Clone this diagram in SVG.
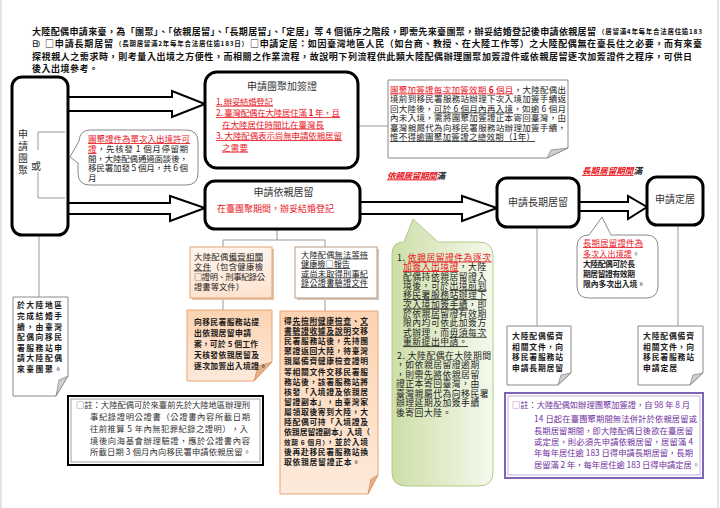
<svg xmlns="http://www.w3.org/2000/svg" width="720" height="508" viewBox="0 0 720 508">
<defs>
<style>
text{font-family:"Noto Sans CJK TC","Noto Sans CJK SC",sans-serif;fill:#222}
.h{font-size:9px;font-weight:700;fill:#111}
.hs{font-size:6.5px;font-weight:700;fill:#111}
.t{font-size:10px;fill:#333;text-anchor:middle}
.r{fill:#e8141e}
.u{text-decoration:underline}
.n{font-size:8.5px}
.bm{font-size:7.8px;font-weight:700;fill:#1a1a1a}
.g{font-size:8.8px;letter-spacing:0.5px;fill:#222}
.gy{font-size:8.3px;fill:#333}
.pu{font-size:8.3px;fill:#7030a0}
.it{font-size:8.6px;font-style:italic;font-weight:700}
.bx{fill:#fff;stroke:#000;stroke-width:3}
.ar{fill:#fff;stroke:#000;stroke-width:2;stroke-linejoin:miter}
.ln{stroke:#999;stroke-width:1;fill:none}
.nt{fill:#fff;stroke:#8a8a8a;stroke-width:1}
.fold{fill:#cfcfcf;stroke:#8a8a8a;stroke-width:0.8}
</style>
<linearGradient id="peach" x1="0" y1="0" x2="0" y2="1">
<stop offset="0" stop-color="#fcd3b2"/>
<stop offset="1" stop-color="#fdeadb"/>
</linearGradient>
<linearGradient id="peach2" x1="0" y1="0" x2="0" y2="1">
<stop offset="0" stop-color="#fff4ec"/>
<stop offset="1" stop-color="#fde3cf"/>
</linearGradient>
<linearGradient id="green" x1="0" y1="0" x2="1" y2="0">
<stop offset="0" stop-color="#cddea8"/>
<stop offset="1" stop-color="#f5f9ec"/>
</linearGradient>
</defs>
<rect width="720" height="508" fill="#fff"/>
<line x1="1" y1="0" x2="1" y2="508" stroke="#c8c8c8"/>
<line x1="718" y1="0" x2="718" y2="508" stroke="#c8c8c8"/>

<g id="header">
<text class="h" x="32" y="34.5" textLength="564">大陸配偶申請來臺，為「團聚」、「依親居留」、「長期居留」、「定居」等 4 個循序之階段，即需先來臺團聚，辦妥結婚登記後申請依親居留</text>
<text class="hs" x="598" y="34" textLength="104">（居留滿4年每年合法居住逾183</text>
<text class="hs" x="32" y="46" textLength="12">日）</text>
<text class="h" x="45" y="46.5" textLength="68">□申請長期居留</text>
<text class="hs" x="115" y="46" textLength="133">（長期居留滿2年每年合法居住逾183日）</text>
<text class="h" x="250" y="46.5" textLength="452">□申請定居：如因臺灣地區人民（如台商、教授、在大陸工作等）之大陸配偶無在臺長住之必要，而有來臺</text>
<text class="h" x="32" y="59.5" textLength="660">探視親人之需求時，則考量入出境之方便性，而相關之作業流程，故說明下列流程供此類大陸配偶辦理團聚加簽證件或依親居留逐次加簽證件之程序，可供日</text>
<text class="h" x="32" y="72" textLength="66">後入出境參考。</text>
</g>

<g id="connectors">
<polygon class="ar" points="68,97 172,97 172,91 205,104 172,117 172,111 68,111"/>
<polygon class="ar" points="68,203 170,203 170,196 205,208 170,221 170,214 68,214"/>
<polygon class="ar" points="360,202 462,202 462,196 497,208 462,221 462,214 360,214"/>
<polygon class="ar" points="579,202 628,202 628,196 647,207 628,219 628,211 579,211"/>
<line class="ln" x1="358" y1="126" x2="388" y2="126"/>
<line class="ln" x1="39" y1="235" x2="39" y2="297"/>
<polyline class="ln" points="277,229 277,240"/>
<polyline class="ln" points="223,247 223,240 325,240 325,247"/>
<line class="ln" x1="223" y1="298" x2="223" y2="310"/>
<line class="ln" x1="325" y1="298" x2="325" y2="311"/>
<line class="ln" x1="537" y1="227" x2="537" y2="326"/>
<line class="ln" x1="678" y1="225" x2="678" y2="326"/>
</g>

<g id="n-tuanju">
<rect class="bx" x="12" y="77" width="56" height="158" rx="10" stroke-width="3.5"/>
<text class="t" font-size="10.5" x="23" y="138">申</text>
<text class="t" font-size="10.5" x="23" y="150">請</text>
<text class="t" font-size="10.5" x="23" y="162">團</text>
<text class="t" font-size="10.5" x="23" y="174">聚</text>
<text class="t" x="36" y="170">或</text>
<polyline class="ln" points="65,132 38,132 38,150"/>
<polyline class="ln" points="38,172 38,198 65,198"/>
</g>

<g id="n-note-single">
<path class="nt" d="M90,130 H186 Q198,130 198,142 V173 Q198,185 186,185 H90 Q78,185 78,173 V163 L70,157 L79,141 Q80,130 90,130 Z"/>
<text class="n r u" x="88" y="142" textLength="102">團聚證件為單次入出境許可</text>
<text class="n" x="88" y="152" textLength="100"><tspan class="r u">證</tspan>，先核發 1 個月停留期</text>
<text class="n" x="88" y="161.5" textLength="100">間，大陸配偶通過面談後，</text>
<text class="n" x="88" y="171" textLength="100">移民署加發 5 個月，共 6 個</text>
<text class="n" x="88" y="181">月</text>
</g>

<g id="n-visa">
<rect class="bx" x="205" y="72" width="153" height="96" rx="12"/>
<text class="t" x="282" y="90">申請團聚加簽證</text>
<text class="n r u" x="216" y="104.7" textLength="57">1. 辦妥結婚登記</text>
<text class="n r u" x="216" y="116.2" textLength="124">2. 臺灣配偶在大陸居住滿 <tspan font-weight="700">1</tspan> 年，且</text>
<text class="n r u" x="222" y="127.7" textLength="102">在大陸居住時間比在臺灣長</text>
<text class="n r u" x="216" y="139.2" textLength="126">3. 大陸配偶表示尚無申請依親居留</text>
<text class="n r u" x="222" y="150.7" textLength="26">之需要</text>
</g>

<g id="n-visa-note">
<path class="nt" d="M388,80 H568 V148 L547,158 H388 Z"/>
<path class="fold" d="M547,158 L551,150 L568,148 Z"/>
<text class="n" x="390" y="92.5" textLength="176"><tspan class="r u">團聚加簽證每次加簽效期 <tspan font-weight="700">6</tspan> 個月</tspan>，大陸配偶出</text>
<text class="n" x="390" y="102" textLength="176">境前到移民署服務站辦理下次入境加簽手續返</text>
<text class="n" x="390" y="111.5" textLength="176">回大陸後，<tspan class="u">可於 6 個月內再入境</tspan>，如逾 6 個月</text>
<text class="n" x="390" y="121" textLength="176">內未入境，需將團聚加簽證正本寄回臺灣，由</text>
<text class="n" x="390" y="130.5" textLength="176">臺灣親屬代為向移民署服務站辦理加簽手續，</text>
<text class="n u" x="390" y="140" textLength="145">惟不得逾團聚加簽證之總效期（1年）</text>
</g>

<g id="n-residence">
<rect class="bx" x="205" y="181" width="155" height="48" rx="10"/>
<text class="t" x="283.5" y="195.5">申請依親居留</text>
<text class="r" font-size="9" x="217" y="211.5" textLength="117">在臺團聚期間，辦妥結婚登記</text>
</g>

<g id="lbl-residence">
<text class="it" x="387" y="178.5" textLength="58"><tspan class="r u">依親居留期間</tspan>滿</text>
</g>

<g id="lbl-long">
<text class="it" x="582" y="174" textLength="60"><tspan class="r u">長期居留期間</tspan>滿</text>
</g>

<g id="n-long">
<rect class="bx" x="497" y="178" width="82" height="49" rx="10"/>
<text class="t" x="538" y="205.5">申請長期居留</text>
</g>

<g id="n-settle">
<rect class="bx" x="647" y="177" width="56" height="48" rx="10"/>
<text class="t" font-size="9.5" x="675" y="202.5">申請定居</text>
</g>

<g id="n-long-note">
<path class="nt" d="M589,235 L602,217 L611,235 H646 Q658,235 658,247 V286 Q658,298 646,298 H589 Q577,298 577,286 V247 Q577,235 589,235 Z"/>
<text class="r u" font-size="8.4" x="583" y="246" textLength="60">長期居留證件為</text>
<text font-size="8" x="583" y="256.5" textLength="57"><tspan class="r u">多次入出境證</tspan>。</text>
<text font-size="7.8" font-weight="700" fill="#333" x="583" y="267" textLength="52">大陸配偶可於長</text>
<text font-size="7.8" font-weight="700" fill="#333" x="583" y="277" textLength="52">期居留證有效期</text>
<text font-size="7.8" font-weight="700" fill="#333" x="583" y="286.5" textLength="62">限內多次出入境。</text>
</g>

<g id="n-marriage">
<path class="nt" d="M13,297 H68 V376 L56,396 H13 Z"/>
<path class="fold" d="M56,396 L59,380 L68,376 Z"/>
<text class="bm" x="17" y="308" textLength="45">於大陸地區</text>
<text class="bm" x="17" y="319" textLength="45">完成結婚手</text>
<text class="bm" x="17" y="329.5" textLength="45">續，由臺灣</text>
<text class="bm" x="17" y="340" textLength="45">配偶向移民</text>
<text class="bm" x="17" y="351" textLength="45">署服務站申</text>
<text class="bm" x="17" y="361" textLength="45">請大陸配偶</text>
<text class="bm" x="17" y="371.5" textLength="45">來臺團聚。</text>
</g>

<g id="n-docs">
<rect x="192" y="249" width="82" height="51" fill="#e2c4aa"/>
<rect x="190" y="247" width="82" height="51" fill="url(#peach2)" stroke="#e0a57a" stroke-width="1"/>
<text font-size="8.3" x="194" y="259.5" textLength="69">大陸配偶<tspan class="u">備齊相關</tspan></text>
<text font-size="8.3" x="194" y="269.5" textLength="69"><tspan class="u">文件</tspan>（包含健康檢</text>
<text font-size="8.3" x="194" y="279.5" textLength="71">□證明、刑事紀錄公</text>
<text font-size="8.3" x="194" y="289.5" textLength="50">證書等文件）</text>
</g>

<g id="n-nodocs">
<rect x="297" y="249" width="82" height="51" fill="#d8c8ba"/>
<rect x="295" y="247" width="82" height="51" fill="#fff" stroke="#b89a80" stroke-width="1"/>
<text font-size="8.2" x="301" y="257.5" textLength="67">大陸配偶<tspan class="u">無法等待</tspan></text>
<text class="u" font-size="8.2" x="301" y="267" textLength="49">健康檢□報告</text>
<text class="u" font-size="8.2" x="301" y="276.5" textLength="67">或尚未取得刑事紀</text>
<text class="u" font-size="8.2" x="301" y="286" textLength="67">錄公證書驗證文件</text>
</g>

<g id="n-apply">
<path d="M187,310 H272 V362 L254,381 H187 Z" fill="url(#peach)" stroke="#e9a575" stroke-width="1"/>
<path d="M254,381 L258,366 L272,362 Z" fill="#e6b08a" stroke="#d9955f" stroke-width="0.8"/>
<text class="bm" x="194" y="325" textLength="65">向移民署服務站提</text>
<text class="bm" x="194" y="336" textLength="57">出依親居留申請</text>
<text class="bm" x="194" y="347" textLength="64">案，可於 5 個工作</text>
<text class="bm" x="194" y="358" textLength="65">天核發依親居留及</text>
<text class="bm" x="194" y="369" textLength="73">逐次加簽出入境證。</text>
</g>

<g id="n-apply2">
<path d="M280,311 H378 V475 L368,494 H280 Z" fill="url(#peach)" stroke="#e9a575" stroke-width="1"/>
<path d="M368,494 L371,479 L378,475 Z" fill="#e6b08a" stroke="#d9955f" stroke-width="0.8"/>
<text class="bm" x="284" y="324" textLength="84">得<tspan class="u">先檢附健康檢查</tspan>、<tspan class="u">文</tspan></text>
<text class="bm" x="284" y="334.1" textLength="84"><tspan class="u">書驗證收據及說明</tspan>交移</text>
<text class="bm" x="284" y="344.2" textLength="84">民署服務站後，先持團</text>
<text class="bm" x="284" y="354.3" textLength="84">聚證返回大陸，待臺灣</text>
<text class="bm" x="284" y="364.4" textLength="84">親屬備齊健康檢查證明</text>
<text class="bm" x="284" y="374.5" textLength="84">等相關文件交移民署服</text>
<text class="bm" x="284" y="384.6" textLength="84">務站後，該署服務站將</text>
<text class="bm" x="284" y="394.7" textLength="84">核發「入境證及依親居</text>
<text class="bm" x="284" y="404.8" textLength="84">留證副本」，由臺灣家</text>
<text class="bm" x="284" y="414.9" textLength="84">屬領取後寄到大陸，大</text>
<text class="bm" x="284" y="425" textLength="84">陸配偶可持「入境證及</text>
<text class="bm" x="284" y="435.1" textLength="86">依親居留證副本」入境（</text>
<text class="bm" x="284" y="445.2" textLength="84"><tspan font-size="6.6">效期 6 個月）</tspan>，並於入境</text>
<text class="bm" x="284" y="455.3" textLength="84">後再赴移民署服務站換</text>
<text class="bm" x="284" y="465.4" textLength="76">取依親居留證正本。</text>
</g>

<g id="n-green">
<path d="M392,254 Q392,242 404,242 L413,219 L438,242 H479 Q493,242 493,256 V472 Q493,486 479,486 H406 Q392,486 392,472 Z" fill="url(#green)" stroke="#b3ca88" stroke-width="1"/>
<text class="g" x="397" y="260.5">1. <tspan class="r u">依親居留證件為逐次</tspan></text>
<text class="g" x="403" y="270"><tspan class="r u">加簽入出境證</tspan>，大陸</text>
<text class="g" x="403" y="279.5">配偶持依親居留證入</text>
<text class="g" x="403" y="288.8">境後，可於<tspan class="u">出境前到</tspan></text>
<text class="g u" x="403" y="298.2">移民署服務站辦理下</text>
<text class="g" x="403" y="307.6"><tspan class="u">次入境加簽手續</tspan>，即</text>
<text class="g" x="403" y="317">於依親居留證有效期</text>
<text class="g" x="403" y="326.4">限內均可依此加簽方</text>
<text class="g" x="403" y="335.8">式辦理，而<tspan class="u">毋須每次</tspan></text>
<text class="g u" x="403" y="345.2">重新提出申請。</text>
<text class="g" x="397" y="358.5">2. 大陸配偶在大陸期間</text>
<text class="g" x="396" y="368">，如依親居留證逾期</text>
<text class="g" x="396" y="377.5">，則需先將依親居留</text>
<text class="g" x="396" y="387">證正本寄回臺灣，由</text>
<text class="g" x="396" y="396.5">臺灣親屬代為向移民署</text>
<text class="g" x="396" y="406">辦理延期及加簽手續</text>
<text class="g" x="396" y="415.5">後寄回大陸。</text>
</g>

<g id="n-long-doc">
<path class="nt" d="M507,326 H571 V373 L558,385 H507 Z"/>
<path class="fold" d="M558,385 L561,375 L571,373 Z"/>
<text class="bm" x="512" y="338.5" textLength="51">大陸配偶備齊</text>
<text class="bm" x="512" y="349.5" textLength="51">相關文件，向</text>
<text class="bm" x="512" y="360" textLength="51">移民署服務站</text>
<text class="bm" x="512" y="371" textLength="51">申請長期居留</text>
</g>

<g id="n-settle-doc">
<path class="nt" d="M638,326 H703 V373 L690,385 H638 Z"/>
<path class="fold" d="M690,385 L693,375 L703,373 Z"/>
<text class="bm" x="643" y="338.5" textLength="51">大陸配偶備齊</text>
<text class="bm" x="643" y="349.5" textLength="51">相關文件，向</text>
<text class="bm" x="643" y="360" textLength="51">移民署服務站</text>
<text class="bm" x="643" y="371" textLength="34">申請定居</text>
</g>

<g id="n-remark1">
<rect x="68" y="396" width="195" height="69" fill="#fff" stroke="#000" stroke-width="2"/>
<rect x="71" y="399" width="189" height="63" fill="none" stroke="#a0a0a0" stroke-width="1"/>
<text class="gy" x="76" y="408" textLength="174">□註：大陸配偶可於來臺前先於大陸地區辦理刑</text>
<text class="gy" x="90" y="420" textLength="160">事紀錄證明公證書（公證書內容所載日期</text>
<text class="gy" x="90" y="432" textLength="158">往前推算 5 年內無犯罪紀錄之證明），入</text>
<text class="gy" x="90" y="444" textLength="160">境後向海基會辦理驗證，應於公證書內容</text>
<text class="gy" x="90" y="455" textLength="161">所載日期 3 個月內向移民署申請依親居留。</text>
</g>

<g id="n-remark2">
<rect x="505" y="393" width="198" height="85" fill="#fff" stroke="#7f64b5" stroke-width="2"/>
<rect x="508" y="396" width="192" height="79" fill="none" stroke="#c3b3e0" stroke-width="1"/>
<text class="pu" x="512" y="408" textLength="178">□註：大陸配偶如辦理團聚加簽證，自 98 年 8 月</text>
<text class="pu" x="534" y="422" textLength="163">14 日起在臺團聚期間無法併計於依親居留或</text>
<text class="pu" x="534" y="434" textLength="159">長期居留期間，即大陸配偶日後欲在臺居留</text>
<text class="pu" x="534" y="445" textLength="159">或定居，則必須先申請依親居留，居留滿 4</text>
<text class="pu" x="534" y="456" textLength="159">年每年居住逾 183 日得申請長期居留，長期</text>
<text class="pu" x="534" y="468" textLength="166">居留滿 2 年，每年居住逾 183 日得申請定居。</text>
</g>
</svg>
